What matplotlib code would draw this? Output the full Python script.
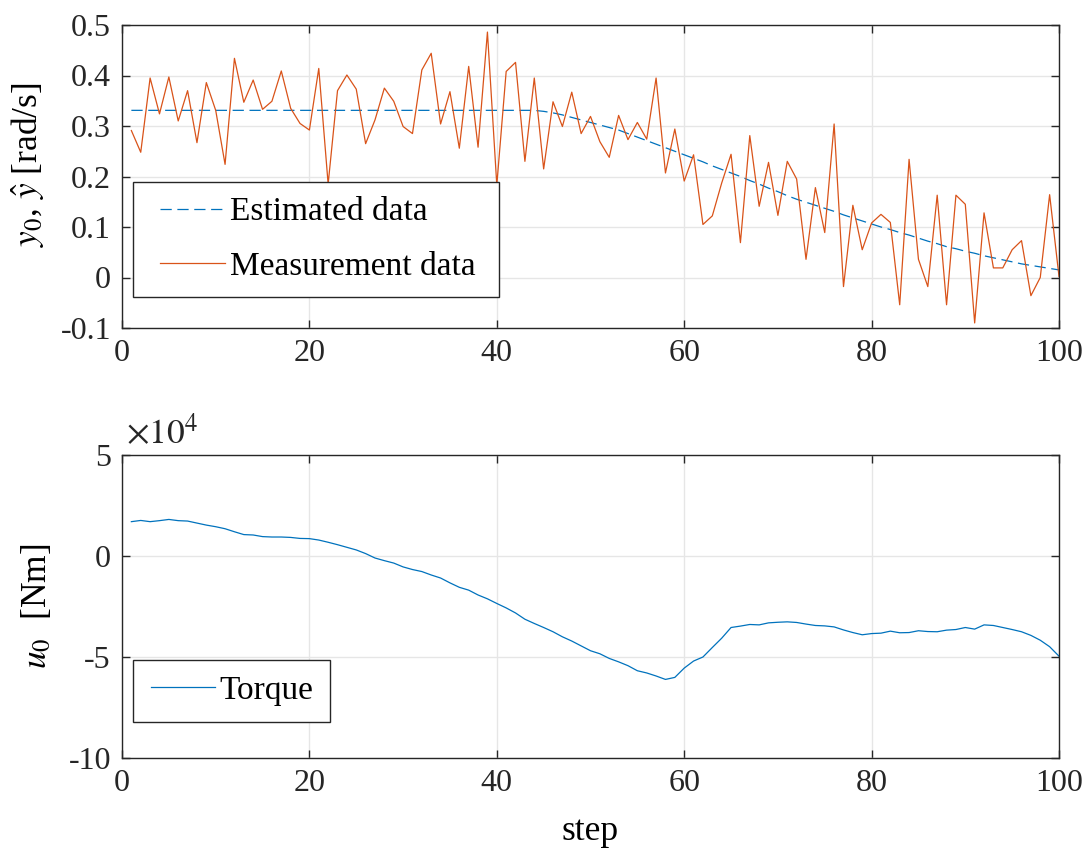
import matplotlib
matplotlib.use("Agg")
import matplotlib.pyplot as plt
from matplotlib.legend_handler import HandlerLine2D
import numpy as np

# ---------------- data ----------------
steps = list(range(1, 101))

measurement = [
    0.291, 0.248, 0.395, 0.324, 0.397, 0.310, 0.370, 0.267, 0.386, 0.331,
    0.224, 0.434, 0.347, 0.391, 0.333, 0.349, 0.409, 0.335, 0.305, 0.292,
    0.414, 0.185, 0.370, 0.401, 0.373, 0.265, 0.312, 0.375, 0.349, 0.299,
    0.285, 0.411, 0.444, 0.304, 0.368, 0.256, 0.418, 0.258, 0.486, 0.183,
    0.408, 0.426, 0.230, 0.395, 0.215, 0.348, 0.299, 0.367, 0.285, 0.319,
    0.269, 0.238, 0.321, 0.273, 0.307, 0.274, 0.395, 0.207, 0.294, 0.191,
    0.243, 0.105, 0.122, 0.187, 0.244, 0.069, 0.281, 0.141, 0.228, 0.123,
    0.230, 0.195, 0.036, 0.178, 0.089, 0.304, -0.018, 0.143, 0.055, 0.108,
    0.125, 0.109, -0.054, 0.234, 0.036, -0.018, 0.163, -0.054, 0.163, 0.145,
    -0.090, 0.128, 0.019, 0.019, 0.055, 0.073, -0.036, 0.000, 0.164, 0.002,
]

estimated = [
    0.331, 0.331, 0.331, 0.331, 0.331, 0.331, 0.331, 0.331, 0.331, 0.331,
    0.331, 0.331, 0.331, 0.331, 0.331, 0.331, 0.331, 0.331, 0.331, 0.331,
    0.331, 0.331, 0.331, 0.331, 0.331, 0.331, 0.331, 0.331, 0.331, 0.331,
    0.331, 0.331, 0.331, 0.331, 0.331, 0.331, 0.331, 0.331, 0.331, 0.331,
    0.331, 0.331, 0.331, 0.331, 0.329, 0.326, 0.322, 0.317, 0.312, 0.307,
    0.302, 0.297, 0.292, 0.285, 0.278, 0.271, 0.264, 0.257, 0.250, 0.243,
    0.236, 0.229, 0.221, 0.214, 0.207, 0.200, 0.192, 0.185, 0.177, 0.170,
    0.162, 0.155, 0.149, 0.143, 0.137, 0.131, 0.124, 0.118, 0.112, 0.106,
    0.100, 0.095, 0.089, 0.084, 0.078, 0.072, 0.067, 0.061, 0.057, 0.052,
    0.048, 0.043, 0.039, 0.035, 0.031, 0.027, 0.024, 0.021, 0.018, 0.015,
]

# torque in units of 1e4 Nm
torque = [
    1.70, 1.76, 1.70, 1.75, 1.81, 1.75, 1.73, 1.63, 1.53, 1.45,
    1.35, 1.20, 1.06, 1.04, 0.96, 0.94, 0.94, 0.92, 0.87, 0.86,
    0.79, 0.68, 0.56, 0.43, 0.30, 0.12, -0.10, -0.23, -0.35, -0.54,
    -0.67, -0.77, -0.94, -1.09, -1.33, -1.55, -1.69, -1.93, -2.12, -2.35,
    -2.57, -2.82, -3.13, -3.34, -3.54, -3.75, -4.00, -4.21, -4.45, -4.69,
    -4.84, -5.07, -5.24, -5.43, -5.68, -5.79, -5.94, -6.11, -6.01, -5.55,
    -5.20, -5.00, -4.53, -4.07, -3.54, -3.47, -3.39, -3.41, -3.31, -3.28,
    -3.26, -3.29, -3.37, -3.44, -3.46, -3.51, -3.66, -3.79, -3.90, -3.84,
    -3.82, -3.72, -3.80, -3.79, -3.70, -3.74, -3.75, -3.67, -3.64, -3.54,
    -3.62, -3.41, -3.44, -3.54, -3.64, -3.75, -3.93, -4.17, -4.49, -4.96,
]

top_yticks = [-0.1, 0, 0.1, 0.2, 0.3, 0.4, 0.5]
top_yticklabels = ["-0.1", "0", "0.1", "0.2", "0.3", "0.4", "0.5"]
bot_yticks = [-10, -5, 0, 5]
bot_yticklabels = ["-10", "-5", "0", "5"]
xticks = [0, 20, 40, 60, 80, 100]

# ---------------- style ----------------
plt.rcParams['font.family'] = ['Liberation Serif', 'DejaVu Serif']
plt.rcParams['mathtext.fontset'] = 'stix'
FS_TICK = 23
FS_LABEL = 25.5
FS_LEG = 24

blue = '#0072BD'
orange = '#D95319'
spine_c = '#262626'
grid_c = '#e6e6e6'

fig = plt.figure(figsize=(10.87, 8.5), dpi=100)
ax1 = fig.add_axes([122/1087, 1-328/850, 937/1087, 303/850])
ax2 = fig.add_axes([122/1087, 1-758/850, 937/1087, 303/850])


def style(ax):
    ax.grid(True, color=grid_c, linewidth=1.0)
    ax.set_axisbelow(True)
    for s in ax.spines.values():
        s.set_color(spine_c)
        s.set_linewidth(1.0)
    ax.tick_params(direction='in', length=6, width=1.0, colors=spine_c,
                   labelcolor='#262626', labelsize=FS_TICK, top=True, right=True, pad=8)
    ax.set_xlim(0, 100)
    ax.set_xticks(xticks)


# top plot
ax1.plot(steps, estimated, color=blue, linestyle=(0, (9, 4.5)), linewidth=0.9,
         label='Estimated data')
ax1.plot(steps, measurement, color=orange, linewidth=0.9, label='Measurement data ')
style(ax1)
ax1.set_ylim(-0.1, 0.5)
ax1.set_yticks(top_yticks)
ax1.set_yticklabels(top_yticklabels)
ax1.set_ylabel(r'$y_0$, $\hat{y}$ [rad/s]', fontsize=FS_LABEL, labelpad=10)
ax1.yaxis.set_label_coords(-0.08, 0.54)
leg1 = ax1.legend(loc='lower left', bbox_to_anchor=(11/937, 31/303),
                  fontsize=FS_LEG, frameon=True, fancybox=False, framealpha=1,
                  edgecolor=spine_c, handlelength=2.3, handletextpad=0.15,
                  borderpad=0.45, labelspacing=0.72, borderaxespad=0,
                  handler_map={matplotlib.lines.Line2D: HandlerLine2D(xpad=0.37)})
leg1.get_frame().set_linewidth(1.0)

# bottom plot
ax2.plot(steps, torque, color=blue, linewidth=0.9, label='Torque')
style(ax2)
ax2.set_ylim(-10, 5)
ax2.set_yticks(bot_yticks)
ax2.set_yticklabels(bot_yticklabels)
ax2.set_ylabel(r'$u_0$  [Nm]', fontsize=FS_LABEL, labelpad=10)
ax2.set_xlabel('step', fontsize=FS_LABEL, labelpad=12)
leg2 = ax2.legend(loc='lower left', bbox_to_anchor=(11/937, 36/303),
                  fontsize=FS_LEG, frameon=True, fancybox=False, framealpha=1,
                  edgecolor=spine_c, handlelength=1.97, handletextpad=0.15,
                  borderpad=0.48, borderaxespad=0,
                  handler_map={matplotlib.lines.Line2D: HandlerLine2D(xpad=0.07)})
leg2.get_frame().set_linewidth(1.0)
ax2.text(0.004, 1.01, r'$\times10^4$', transform=ax2.transAxes, fontsize=FS_LABEL,
         ha='left', va='bottom', color='#262626')

fig.savefig('out.png', dpi=100)
